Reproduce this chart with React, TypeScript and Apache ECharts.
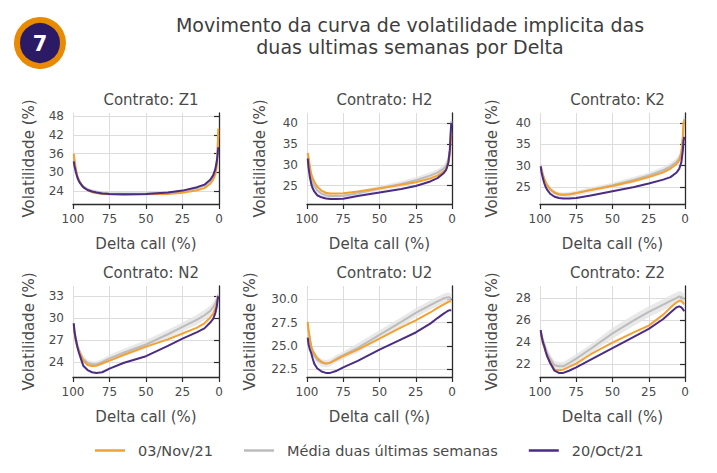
import { useEffect, useRef } from "react";
import * as echarts from "echarts";

// Delta call (%) sample points, shared by all panels
const deltas = [99.5, 99, 98, 97, 96, 95, 93, 90, 87, 84, 80, 75, 65, 50, 35, 25, 15, 10, 6, 4, 2.5, 1.5, 1, 0.5];

const seriesNames = ["03/Nov/21", "Média duas últimas semanas", "20/Oct/21"];
const contracts = ["Z1", "H2", "K2", "N2", "U2", "Z2"];

// Z1
const z1Nov = [36, 34, 31, 28.8, 27.4, 26.5, 25.2, 24.2, 23.6, 23.3, 23.0, 22.9, 22.8, 22.9, 23.0, 23.4, 24.2, 24.9, 26.3, 27.6, 29.3, 32, 36, 44];
const z1Mean = [35, 33, 30.5, 28.6, 27.4, 26.6, 25.4, 24.5, 24.0, 23.7, 23.4, 23.2, 23.1, 23.1, 23.4, 23.9, 24.9, 25.7, 27.2, 28.6, 30.8, 33.5, 37, 42];
const z1Oct = [33.5, 32, 30, 28.3, 27.2, 26.4, 25.2, 24.3, 23.8, 23.5, 23.2, 23.0, 22.9, 23.0, 23.5, 24.1, 25.2, 26.0, 27.6, 29.0, 31, 33.5, 35.5, 38];
const z1Spread = [3.5, 2.5, 1.5, 1.0, 0.8, 0.7, 0.6, 0.5, 0.5, 0.5, 0.5, 0.5, 0.5, 0.5, 0.5, 0.5, 0.6, 0.7, 0.9, 1.1, 1.5, 2.5, 3.5, 5];

// H2
const h2Nov = [32.8, 32, 29.5, 27.8, 26.7, 26.0, 24.8, 23.8, 23.3, 23.1, 23.1, 23.2, 23.6, 24.4, 25.2, 25.8, 26.7, 27.4, 28.3, 29.0, 30.5, 32.5, 35, 37.5];
const h2Mean = [32.5, 31, 28.5, 26.8, 25.7, 25.0, 23.9, 23.1, 22.7, 22.5, 22.5, 22.6, 23.2, 24.3, 25.4, 26.3, 27.4, 28.1, 29.0, 29.8, 31.2, 33.5, 36.5, 40.5];
const h2Oct = [31.5, 29.5, 27.0, 25.3, 24.3, 23.6, 22.7, 22.2, 21.9, 21.8, 21.8, 21.85, 22.5, 23.35, 24.2, 24.9, 26.0, 26.8, 27.9, 28.8, 30.5, 33.5, 37, 40];
const h2Spread = [2, 1.6, 1.2, 1.0, 0.9, 0.8, 0.7, 0.6, 0.6, 0.6, 0.6, 0.6, 0.6, 0.6, 0.7, 0.7, 0.8, 0.8, 0.9, 1.0, 1.3, 1.8, 2.5, 3];

// K2
const k2Nov = [29.8, 29, 27.8, 26.8, 26.0, 25.4, 24.5, 23.7, 23.3, 23.2, 23.3, 23.6, 24.3, 25.2, 26.4, 27.3, 28.4, 29.3, 30.3, 31.2, 32.8, 36.5, 40, 40.5];
const k2Mean = [30, 29.2, 27.8, 26.7, 25.9, 25.3, 24.4, 23.6, 23.2, 23.1, 23.2, 23.5, 24.3, 25.4, 26.7, 27.7, 28.9, 29.8, 30.8, 31.6, 33, 36.5, 39.5, 41];
const k2Oct = [29.8, 28.5, 27.0, 25.8, 24.9, 24.3, 23.4, 22.7, 22.4, 22.3, 22.3, 22.4, 23.0, 24.0, 25.0, 25.8, 26.7, 27.3, 28.3, 29.2, 30.8, 33.5, 35.8, 36.7];
const k2Spread = [1.5, 1.3, 1.1, 1.0, 0.9, 0.8, 0.7, 0.6, 0.6, 0.6, 0.6, 0.6, 0.6, 0.6, 0.7, 0.7, 0.8, 0.8, 0.9, 1.0, 1.2, 1.6, 2, 2.5];

// N2
const n2Nov = [29, 28, 26.8, 26.0, 25.5, 25.1, 24.2, 23.6, 23.45, 23.5, 23.8, 24.2, 25.0, 26.1, 27.1, 27.9, 28.7, 29.3, 30.1, 30.6, 31.3, 32, 32.6, 33];
const n2Mean = [29.3, 28.3, 27.1, 26.3, 25.7, 25.2, 24.4, 23.9, 23.7, 23.7, 24.0, 24.5, 25.3, 26.4, 27.8, 28.8, 29.8, 30.4, 31.0, 31.5, 32.0, 32.5, 32.9, 33.2];
const n2Oct = [29.3, 28.2, 27, 26.1, 25.3, 24.7, 23.5, 22.9, 22.6, 22.5, 22.6, 23.1, 23.9, 24.8, 26.2, 27.2, 28.1, 28.6, 29.4, 29.9, 30.7, 31.6, 32.4, 33];
const n2Spread = [0.8, 0.7, 0.6, 0.6, 0.5, 0.5, 0.5, 0.4, 0.4, 0.4, 0.4, 0.5, 0.5, 0.6, 0.6, 0.6, 0.7, 0.7, 0.7, 0.7, 0.7, 0.6, 0.6, 0.6];

// U2
const u2Nov = [27.6, 26.8, 25.8, 24.9, 24.5, 24.2, 23.7, 23.3, 23.1, 23.2, 23.5, 23.9, 24.6, 25.8, 27.0, 27.75, 28.6, 29.1, 29.45, 29.6, 29.75, 29.8, 29.8, 29.8];
const u2Mean = [27.3, 26.6, 25.6, 24.8, 24.3, 24.0, 23.5, 23.2, 23.1, 23.2, 23.6, 24.0, 24.8, 26.2, 27.6, 28.55, 29.4, 29.8, 30.1, 30.2, 30.25, 30.2, 30.1, 30.0];
const u2Oct = [25.9, 25.2, 24.6, 24.2, 23.6, 23.1, 22.6, 22.25, 22.1, 22.1, 22.3, 22.7, 23.4, 24.6, 25.7, 26.45, 27.4, 28.0, 28.45, 28.65, 28.8, 28.85, 28.85, 28.85];
const u2Spread = [0.6, 0.5, 0.5, 0.5, 0.4, 0.4, 0.4, 0.4, 0.4, 0.4, 0.4, 0.4, 0.5, 0.5, 0.5, 0.5, 0.5, 0.5, 0.5, 0.5, 0.5, 0.5, 0.5, 0.5];

// Z2
const z2Nov = [25.0, 24.5, 23.9, 23.5, 23.1, 22.7, 22.2, 21.5, 21.45, 21.5, 21.75, 22.05, 22.9, 23.95, 24.9, 25.5, 26.5, 27.15, 27.6, 27.75, 27.75, 27.6, 27.5, 27.45];
const z2Mean = [25.1, 24.7, 24.2, 23.8, 23.4, 23.0, 22.5, 21.9, 21.8, 21.8, 22.1, 22.5, 23.4, 24.8, 26.0, 26.75, 27.4, 27.75, 28.0, 28.15, 28.1, 28.0, 27.95, 27.9];
const z2Oct = [25.1, 24.6, 24.0, 23.6, 23.1, 22.7, 22.1, 21.4, 21.2, 21.2, 21.4, 21.7, 22.4, 23.45, 24.5, 25.2, 26.1, 26.7, 27.15, 27.25, 27.15, 27.0, 26.9, 26.8];
const z2Spread = [0.5, 0.4, 0.4, 0.4, 0.4, 0.4, 0.4, 0.4, 0.4, 0.4, 0.4, 0.4, 0.4, 0.5, 0.5, 0.5, 0.5, 0.5, 0.5, 0.5, 0.5, 0.5, 0.5, 0.5];

// y-axis tick labels per panel
const z1Ticks = [24, 30, 36, 42, 48];
const h2Ticks = [25, 30, 35, 40];
const k2Ticks = [25, 30, 35, 40];
const n2Ticks = [24, 27, 30, 33];
const u2Ticks = [22.5, 25, 27.5, 30];
const z2Ticks = [22, 24, 26, 28];

const panelData = [
  { nov: z1Nov, mean: z1Mean, oct: z1Oct, spread: z1Spread, ticks: z1Ticks, min: 19.8, max: 49, dec: 0, nameGap: 37 },
  { nov: h2Nov, mean: h2Mean, oct: h2Oct, spread: h2Spread, ticks: h2Ticks, min: 20.6, max: 42.4, dec: 0, nameGap: 40 },
  { nov: k2Nov, mean: k2Mean, oct: k2Oct, spread: k2Spread, ticks: k2Ticks, min: 21.0, max: 42.3, dec: 0, nameGap: 41 },
  { nov: n2Nov, mean: n2Mean, oct: n2Oct, spread: n2Spread, ticks: n2Ticks, min: 21.95, max: 34.4, dec: 0, nameGap: 37 },
  { nov: u2Nov, mean: u2Mean, oct: u2Oct, spread: u2Spread, ticks: u2Ticks, min: 21.66, max: 31.45, dec: 1, nameGap: 50 },
  { nov: z2Nov, mean: z2Mean, oct: z2Oct, spread: z2Spread, ticks: z2Ticks, min: 20.83, max: 29.1, dec: 0, nameGap: 41 },
];

const FONT = "DejaVu Sans";
const TEXT = "#4a4a4a";
const ORANGE = "#F3A132";
const GRAY = "#bcbcbc";
const PURPLE = "#4B2C85";

const colLeft = [73, 307, 540];
const colWidth = [146, 145, 145];
const rowTop = [113, 286];
const gridH = 91;

export default function App() {
  const ref = useRef<HTMLDivElement>(null);
  useEffect(() => {
    document.body.style.margin = "0";
    const chart = echarts.init(ref.current!, null, { renderer: "svg" });
    const grids: any[] = [];
    const xAxes: any[] = [];
    const yAxes: any[] = [];
    const titles: any[] = [
      {
        text: "Movimento da curva de volatilidade implicita das\nduas ultimas semanas por Delta",
        left: 405,
        top: 9,
        textAlign: "center",
        textStyle: { fontFamily: FONT, fontSize: 19, fontWeight: "normal", color: "#3d3d3d", lineHeight: 22 },
      },
    ];
    const series: any[] = [];
    panelData.forEach((p, i) => {
      const c = i % 3;
      const r = Math.floor(i / 3);
      grids.push({ left: colLeft[c], top: rowTop[r], width: colWidth[c], height: gridH, containLabel: false });
      titles.push({
        text: "Contrato: " + contracts[i],
        left: colLeft[c] + colWidth[c] / 2,
        top: rowTop[r] - 26,
        textAlign: "center",
        textStyle: { fontFamily: FONT, fontSize: 15, fontWeight: "normal", color: TEXT },
      });
      xAxes.push({
        type: "value",
        gridIndex: i,
        min: 0,
        max: 100,
        interval: 25,
        inverse: true,
        name: "Delta call (%)",
        nameLocation: "middle",
        nameGap: 32,
        nameTextStyle: { fontFamily: FONT, fontSize: 15, color: TEXT },
        axisLine: { show: true, lineStyle: { color: "#2b2b2b", width: 1.3 } },
        axisTick: { show: true, length: 5, lineStyle: { color: "#2b2b2b", width: 1.2 } },
        axisLabel: { fontFamily: FONT, fontSize: 12, color: TEXT, margin: 9 },
        splitLine: { show: true, lineStyle: { color: "#dcdcdc", width: 1 } },
      });
      yAxes.push({
        type: "value",
        gridIndex: i,
        min: p.min,
        max: p.max,
        name: "Volatilidade (%)",
        nameLocation: "middle",
        nameGap: p.nameGap,
        nameTextStyle: { fontFamily: FONT, fontSize: 15, color: TEXT },
        axisLine: { show: true, lineStyle: { color: "#2b2b2b", width: 1.3 } },
        axisTick: { show: true, length: 5, customValues: p.ticks, lineStyle: { color: "#2b2b2b", width: 1.2 } },
        axisLabel: {
          fontFamily: FONT,
          fontSize: 12,
          color: TEXT,
          margin: 9,
          customValues: p.ticks,
          formatter: (v: number) => v.toFixed(p.dec),
        },
        splitLine: { show: true, lineStyle: { color: "#dcdcdc", width: 1 } },
      });
      const lo = p.mean.map((m, k) => m - p.spread[k]);
      const hi = p.mean.map((m, k) => m + p.spread[k]);
      series.push({
        type: "custom",
        xAxisIndex: i,
        yAxisIndex: i,
        silent: true,
        clip: true,
        z: 1,
        data: deltas.map((d, k) => [d, lo[k], hi[k]]),
        encode: { x: 0, y: [1, 2] },
        renderItem: (params: any, api: any) => {
          if (params.dataIndex !== 0) return null;
          const upper = deltas.map((d, k) => api.coord([d, hi[k]]));
          const lower = deltas.map((d, k) => api.coord([d, lo[k]])).reverse();
          return {
            type: "polygon",
            shape: { points: upper.concat(lower) },
            style: { fill: "#e4e4e4", opacity: 0.8 },
          };
        },
      });
      const common = { type: "line", xAxisIndex: i, yAxisIndex: i, symbol: "none", smooth: false };
      series.push({
        ...common,
        name: seriesNames[1],
        color: GRAY,
        lineStyle: { color: GRAY, width: 2, join: "round" },
        data: deltas.map((d, k) => [d, p.mean[k]]),
        z: 2,
      });
      series.push({
        ...common,
        name: seriesNames[0],
        color: ORANGE,
        lineStyle: { color: ORANGE, width: 2, join: "round" },
        data: deltas.map((d, k) => [d, p.nov[k]]),
        z: 3,
      });
      series.push({
        ...common,
        name: seriesNames[2],
        color: PURPLE,
        lineStyle: { color: PURPLE, width: 2, join: "round" },
        data: deltas.map((d, k) => [d, p.oct[k]]),
        z: 4,
      });
    });

    chart.setOption({
      animation: false,
      backgroundColor: "#ffffff",
      title: titles,
      grid: grids,
      xAxis: xAxes,
      yAxis: yAxes,
      series,
      legend: {
        data: seriesNames,
        left: 90,
        top: 438,
        icon: "rect",
        itemWidth: 30,
        itemHeight: 2.5,
        itemGap: 31,
        textStyle: { fontFamily: FONT, fontSize: 14.5, color: TEXT, padding: [0, 0, 0, 8] },
      },
      graphic: [
        {
          type: "circle",
          shape: { cx: 40, cy: 43, r: 23 },
          style: { fill: "#2B1A66", stroke: "#E88B00", lineWidth: 6 },
        },
        {
          type: "text",
          x: 40,
          y: 44,
          style: {
            text: "7",
            fill: "#ffffff",
            font: `bold 21px ${FONT}`,
            textAlign: "center",
            textVerticalAlign: "middle",
          },
        },
      ],
    });
    return () => chart.dispose();
  }, []);
  return <div ref={ref} style={{ width: 717, height: 473 }} />;
}
